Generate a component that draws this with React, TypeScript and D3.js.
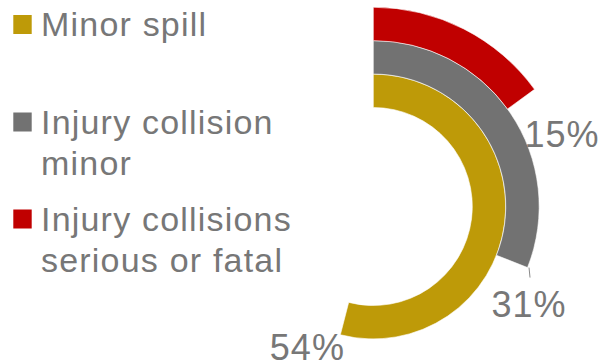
import React from "react";
import * as d3 from "d3";

const categories = ["Minor spill", "Injury collision\nminor", "Injury collisions\nserious or fatal"];
const values = [54, 31, 15];
const valueLabels = ["54%", "31%", "15%"];
const colors = ["#BE9A08", "#727272", "#C00000"];

const W = 603;
const H = 363;
const cx = 373.3;
const cy = 206.5;
const textColor = "#777777";
const fontFamily = "'Liberation Sans', Arial, sans-serif";
// label offsets relative to the outer end point of each arc
const labelOffsets = [
  [-33, 25],
  [1.5, 49],
  [27.5, 57.6],
];
const legendTops = [15, 112.5, 209.5];

export default function App() {
  const angle = d3.scaleLinear().domain([0, 100]).range([0, 2 * Math.PI]);
  const ring = d3.scaleBand<string>().domain(categories).range([99, 199.3]).paddingInner(0);
  const arcGen = d3.arc<any>();

  return (
    <svg
      width={W}
      height={H}
      style={{ position: "absolute", left: 0, top: 0, background: "#fff" }}
      fontFamily={fontFamily}
    >
      <g transform={`translate(${cx},${cy})`}>
        {categories.map((c, i) => {
          const r0 = ring(c)!;
          const r1 = r0 + ring.bandwidth();
          const d = arcGen({ innerRadius: r0, outerRadius: r1, startAngle: 0, endAngle: angle(values[i]) })!;
          return <path key={c} d={d} fill={colors[i]} stroke="#fff" strokeWidth={0.6} />;
        })}
        {categories.map((c, i) => {
          const r1 = ring(c)! + ring.bandwidth();
          const a = angle(values[i]);
          const ex = r1 * Math.sin(a);
          const ey = -r1 * Math.cos(a);
          const [dx, dy] = labelOffsets[i];
          return (
            <g key={"l" + c}>
              {i === 1 && (
                <line x1={ex + 1.5} y1={ey} x2={ex + 2.5} y2={ey + 10} stroke="#8a8a8a" strokeWidth={1} />
              )}
              <text
                x={ex + dx}
                y={ey + dy}
                textAnchor="middle"
                fontSize={36}
                letterSpacing={1}
                fill={textColor}
              >
                {valueLabels[i]}
              </text>
            </g>
          );
        })}
      </g>
      {categories.map((c, i) => {
        const lines = c.split("\n");
        const top = legendTops[i];
        return (
          <g key={"leg" + c}>
            <rect x={13.3} y={top} width={18.4} height={19} fill={colors[i]} />
            <text x={41} y={top + 21} fontSize={34} letterSpacing={1.2} fill={textColor}>
              {lines.map((t, j) => (
                <tspan key={j} x={41} dy={j === 0 ? 0 : 41}>
                  {t}
                </tspan>
              ))}
            </text>
          </g>
        );
      })}
    </svg>
  );
}
